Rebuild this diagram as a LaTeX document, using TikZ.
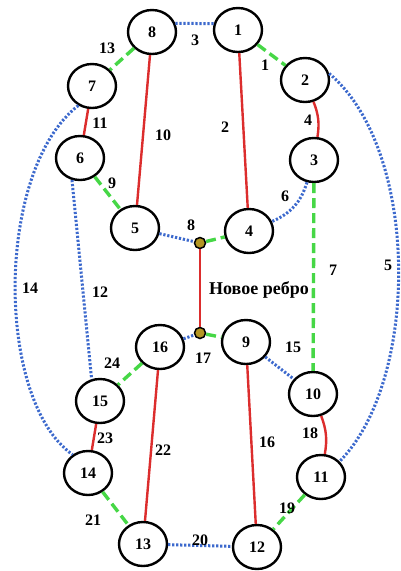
\documentclass[tikz,border=0pt]{standalone}
\usepackage{fontspec}
\setmainfont{Liberation Serif}
\usetikzlibrary{shapes.geometric}
\definecolor{edgered}{RGB}{220,45,45}
\definecolor{edgegreen}{RGB}{70,215,70}
\definecolor{edgeblue}{RGB}{60,105,205}
\definecolor{jointfill}{RGB}{180,150,35}
\begin{document}
\begin{tikzpicture}[x=1pt,y=-1pt,
  vertex/.style={ellipse, draw=black, line width=2.4pt, fill=white,
    minimum width=48pt, minimum height=44pt, inner sep=0pt,
    font=\bfseries\fontsize{16}{18}\selectfont},
  joint/.style={circle, draw=black, line width=1.5pt, fill=jointfill,
    minimum size=11pt, inner sep=0pt},
  redge/.style={draw=edgered, line width=2.4pt},
  gedge/.style={draw=edgegreen, line width=3.4pt, dash pattern=on 10pt off 5pt},
  bedge/.style={draw=edgeblue, line width=3pt, dash pattern=on 2.2pt off 1.8pt},
  lbl/.style={font=\bfseries\fontsize{16}{18}\selectfont, inner sep=0pt}]
\fill[white] (0,0) rectangle (400,571);
\path[use as bounding box] (0,0) rectangle (400,571);

% vertices
\node[vertex] (n1)  at (238,30)  {1};
\node[vertex] (n2)  at (305,80)  {2};
\node[vertex] (n3)  at (314,160) {3};
\node[vertex] (n4)  at (249,231) {4};
\node[vertex] (n5)  at (135,228) {5};
\node[vertex] (n6)  at (80,158)  {6};
\node[vertex] (n7)  at (92,86)   {7};
\node[vertex] (n8)  at (152,32)  {8};
\node[vertex] (n9)  at (246,342) {9};
\node[vertex] (n10) at (313,394) {10};
\node[vertex] (n11) at (321,477) {11};
\node[vertex] (n12) at (257,547) {12};
\node[vertex] (n13) at (143,544) {13};
\node[vertex] (n14) at (88,473)  {14};
\node[vertex] (n15) at (100,401) {15};
\node[vertex] (n16) at (160,347) {16};
\node[joint] (ya) at (200,243) {};
\node[joint] (yb) at (200,333) {};

% edges
\draw[bedge] (n8.20) -- (n1.165);
\draw[gedge] (n1) -- (n2);
\draw[redge] (n1) -- (n4);
\draw[redge] (n2) to[bend left=15] (n3);
\draw[bedge] (n2.15) .. controls (420,150) and (420,380) .. (n11.40);
\draw[bedge] (n3) to[bend left=25] (n4);
\draw[gedge] (n3) -- (n10);
\draw[bedge] (n5) -- (ya);
\draw[gedge] (ya) -- (n4);
\draw[gedge] (n6) -- (n5);
\draw[redge] (n8) -- (n5);
\draw[redge] (n7) -- (n6);
\draw[bedge] (n6.250) -- (n15.111);
\draw[gedge] (n8) -- (n7);
\draw[bedge] (n7.235) .. controls (-5,170) and (-5,400) .. (n14.130);
\draw[bedge] (n9) -- (n10);
\draw[redge] (n9) -- (n12);
\draw[bedge] (n16) -- (yb);
\draw[gedge] (yb) -- (n9);
\draw[redge] (ya) -- (yb);
\draw[redge] (n10) to[bend left=15] (n11);
\draw[gedge] (n11) -- (n12);
\draw[bedge] (n13) -- (n12);
\draw[gedge] (n14) -- (n13);
\draw[redge] (n16) -- (n13);
\draw[redge] (n15) -- (n14);
\draw[gedge] (n16) -- (n15);

% edge numbers
\node[lbl] (l1)  at (265,65)  {1};
\node[lbl] (l2)  at (225,127) {2};
\node[lbl] (l3)  at (195,40)  {3};
\node[lbl] (l4)  at (308,120) {4};
\node[lbl] (l5)  at (388,265) {5};
\node[lbl] (l6)  at (285,196) {6};
\node[lbl] (l7)  at (333,270) {7};
\node[lbl] (l8)  at (191,225) {8};
\node[lbl] (l9)  at (112,183) {9};
\node[lbl] (l10) at (163,135) {10};
\node[lbl] (l11) at (100,123) {11};
\node[lbl] (l12) at (100,292) {12};
\node[lbl] (l13) at (107,48)  {13};
\node[lbl] (l14) at (30,288)  {14};
\node[lbl] (l15) at (293,347) {15};
\node[lbl] (l16) at (267,442) {16};
\node[lbl] (l17) at (203,358) {17};
\node[lbl] (l18) at (310,433) {18};
\node[lbl] (l19) at (287,508) {19};
\node[lbl] (l20) at (200,540) {20};
\node[lbl] (l21) at (93,520)  {21};
\node[lbl] (l22) at (163,450) {22};
\node[lbl] (l23) at (105,438) {23};
\node[lbl] (l24) at (112,363) {24};
\node[lbl, font=\bfseries\fontsize{18}{20}\selectfont] (lnew) at (259,290) {Новое ребро};
\end{tikzpicture}
\end{document}
